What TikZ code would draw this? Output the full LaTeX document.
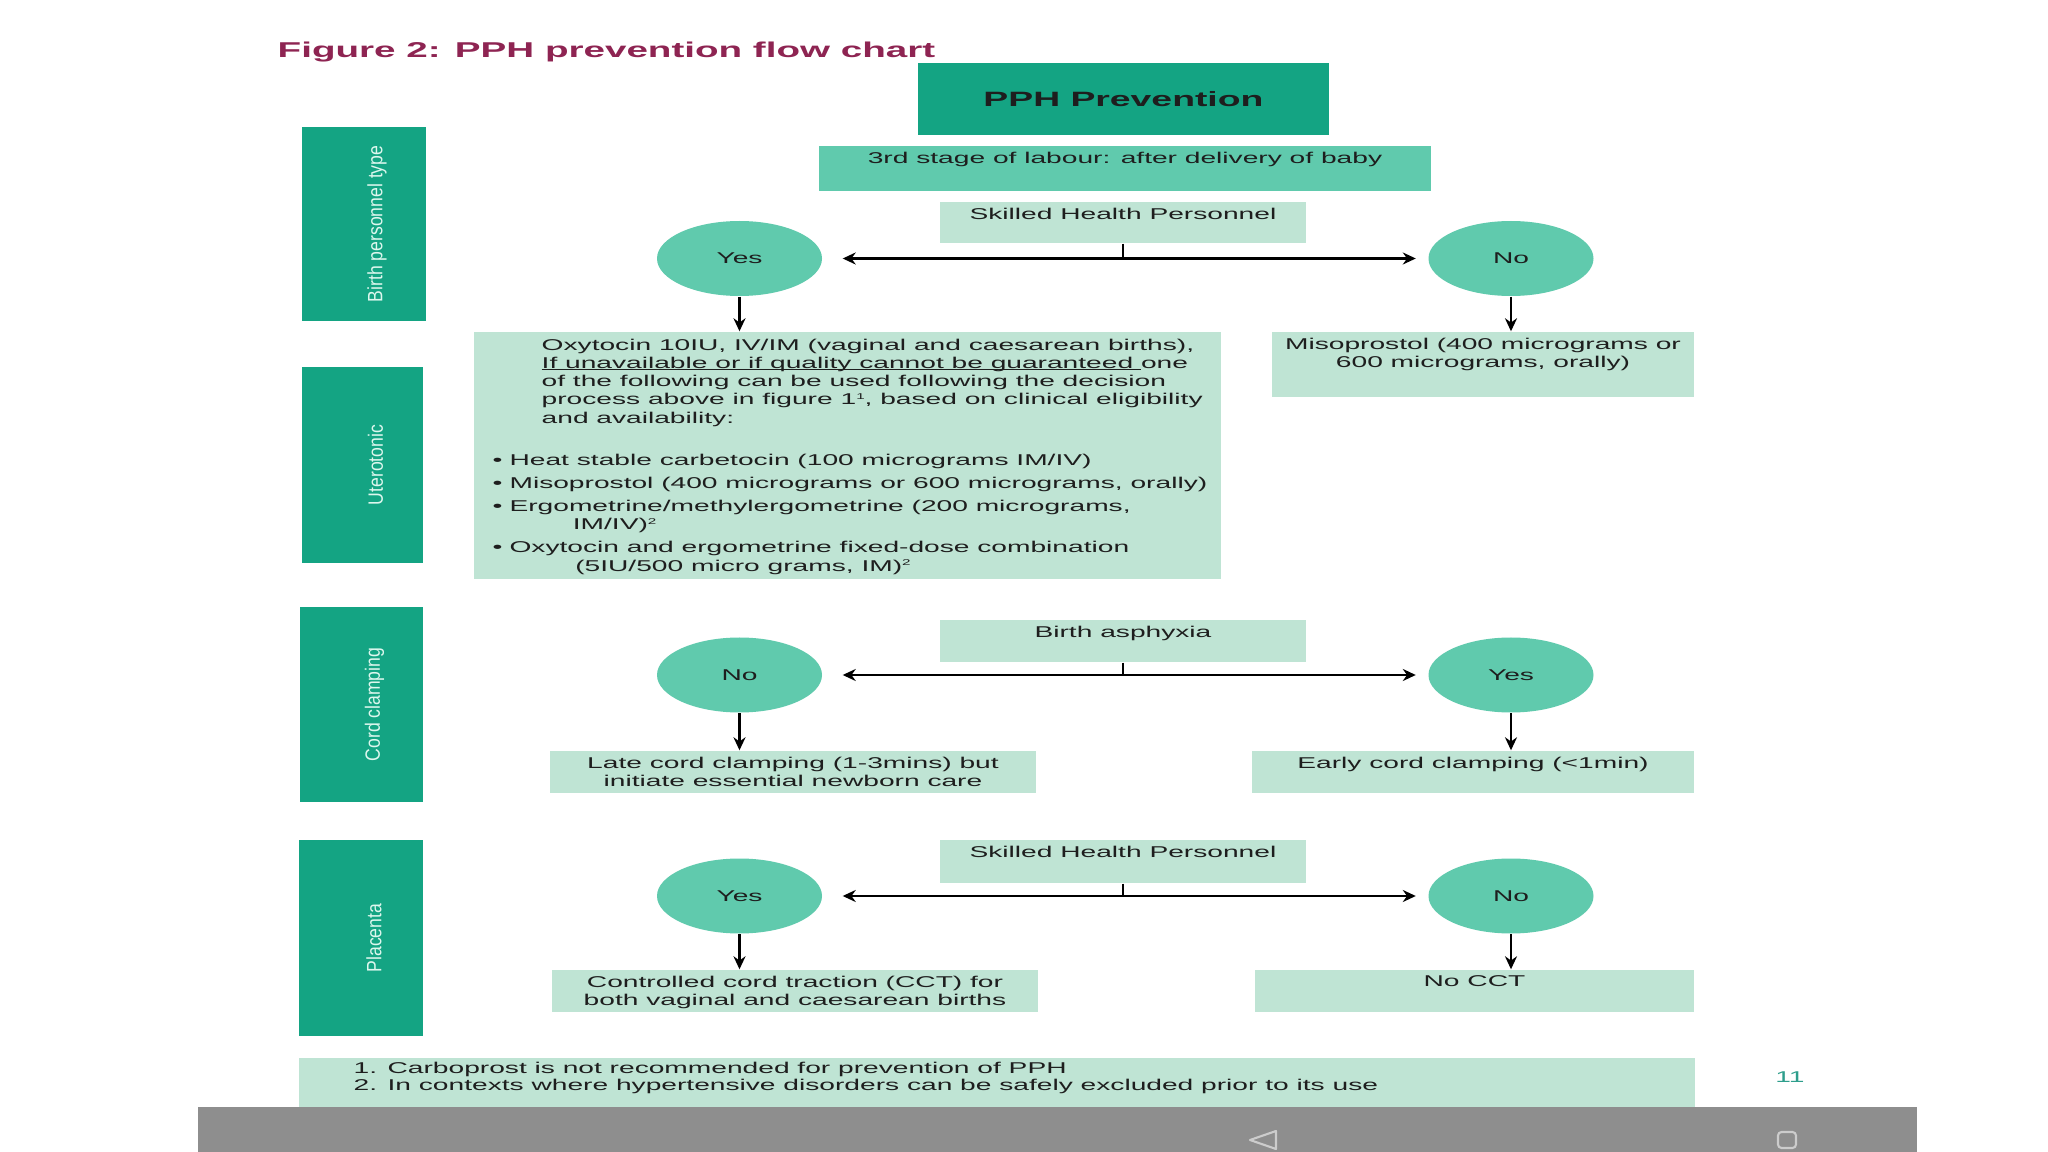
\documentclass[tikz,border=0pt]{standalone}
\usepackage{fontspec}
\setmainfont{Liberation Sans}[FakeStretch=1.8]
\newfontfamily\sidefont{Liberation Sans}[FakeStretch=0.85]
\usetikzlibrary{shapes.geometric, arrows.meta, positioning, calc}
\definecolor{whogreen}{HTML}{14A483}
\definecolor{midgreen}{HTML}{60CAAD}
\definecolor{palegreen}{HTML}{BFE4D4}
\definecolor{titlered}{HTML}{8E2452}
\definecolor{textgrey}{HTML}{1E1E1E}
\definecolor{mint}{HTML}{DDF7EE}
\definecolor{pagegreen}{HTML}{2E9E8C}
\definecolor{navgrey}{HTML}{8E8E8E}
\newcommand{\bodyfont}{\fontsize{4.45}{5.2}\selectfont}
\newcommand{\undl}[1]{\setbox0\hbox{#1}\rlap{\rule[-0.6pt]{\wd0}{0.3pt}}\box0}
\newcommand{\fnmark}[1]{\raisebox{1.6pt}{\fontsize{2.4}{3}\selectfont #1}}
\tikzstyle{header} = [rectangle, fill=whogreen, text=textgrey, minimum width=4.11cm,
                      minimum height=0.72cm, font=\bfseries\fontsize{5.9}{7}\selectfont]
\tikzstyle{sidebox} = [rectangle, fill=whogreen, minimum width=1.23cm, minimum height=1.95cm]
\tikzstyle{sidetext} = [rotate=90, text=mint, inner sep=0pt,
                        font=\sidefont\fontsize{5.9}{7}\selectfont]
\tikzstyle{stagebox} = [rectangle, fill=midgreen, minimum width=6.12cm, minimum height=0.45cm]
\tikzstyle{infobox} = [rectangle, fill=palegreen, minimum height=0.42cm]
\tikzstyle{choice} = [ellipse, fill=midgreen, minimum width=1.65cm, minimum height=0.75cm,
                      inner sep=0pt, text=textgrey, font=\bodyfont]
\tikzstyle{intext} = [anchor=north, inner sep=0pt, yshift=-0.06cm, align=center,
                      text=textgrey, font=\bodyfont]
\tikzstyle{plain} = [inner sep=0pt, align=left, text=textgrey, font=\bodyfont]
\tikzstyle{arrow} = [-{Stealth[length=1.3mm, width=1.2mm]}, line width=0.65pt]
\tikzstyle{twoway} = [{Stealth[length=1.3mm, width=1.2mm]}-{Stealth[length=1.3mm, width=1.2mm]},
                      line width=0.65pt, shorten <=0.2cm, shorten >=0.12cm]
\tikzstyle{navicon} = [draw=black!20, line width=0.6pt, line join=round]

\begin{document}
\begin{tikzpicture}
    \fill[white] (0,0) rectangle (20.48,-11.52);
    \useasboundingbox (0,0) rectangle (20.48,-11.52);

    \node[anchor=west, inner sep=0pt, text=titlered, font=\bfseries\fontsize{6.1}{7.5}\selectfont] (title)
        at (2.77,-0.52) {Figure 2: PPH prevention flow chart};

    \node[header] (pph) at (11.235,-0.99) {PPH Prevention};
    \node[stagebox, label={[intext]north:3rd stage of labour: after delivery of baby}] (stage)
        at (11.25,-1.685) {};

    % row labels
    \node[sidebox, minimum width=1.24cm, minimum height=1.94cm] (side1) at (3.64,-2.24) {};
    \node[sidetext] (side1t) at ([xshift=0.13cm]side1.center) {Birth personnel type};
    \node[sidebox, minimum width=1.21cm, minimum height=1.96cm] (side2) at (3.625,-4.65) {};
    \node[sidetext] (side2t) at ([xshift=0.13cm]side2.center) {Uterotonic};
    \node[sidebox] (side3) at (3.615,-7.045) {};
    \node[sidetext] (side3t) at ([xshift=0.13cm]side3.center) {Cord clamping};
    \node[sidebox, minimum width=1.24cm, minimum height=1.96cm] (side4) at (3.61,-9.38) {};
    \node[sidetext] (side4t) at ([xshift=0.13cm]side4.center) {Placenta};

    % birth personnel type
    \node[infobox, minimum width=3.66cm, minimum height=0.41cm,
          label={[intext]north:Skilled Health Personnel}] (shp1) at (11.23,-2.225) {};
    \node[choice] (yes1) at (7.395,-2.585) {Yes};
    \node[choice] (no1) at (15.11,-2.585) {No};

    % uterotonic
    \node[infobox, minimum width=7.47cm, minimum height=2.47cm] (oxy) at (8.475,-4.555) {};
    \node[plain, anchor=north west] (oxypara) at (5.41,-3.38) {%
        Oxytocin 10IU, IV/IM (vaginal and caesarean births),\\
        \undl{If unavailable or if quality cannot be guaranteed }one\\
        of the following can be used following the decision\\
        process above in figure 1\fnmark{1}, based on clinical eligibility\\
        and availability:};
    \node[plain, anchor=north west] (oxylist) at (4.92,-4.53) {%
        \textbullet\hspace{2pt}Heat stable carbetocin (100 micrograms IM/IV)\\[1.4pt]
        \textbullet\hspace{2pt}Misoprostol (400 micrograms or 600 micrograms, orally)\\[1.4pt]
        \textbullet\hspace{2pt}Ergometrine/methylergometrine (200 micrograms,\\
        \hspace*{22.8pt}IM/IV)\fnmark{2}\\[1.4pt]
        \textbullet\hspace{2pt}Oxytocin and ergometrine fixed-dose combination\\
        \hspace*{23.5pt}(5IU/500 micro grams, IM)\fnmark{2}};
    \node[infobox, minimum width=4.22cm, minimum height=0.65cm,
          label={[intext]north:{Misoprostol (400 micrograms or\\600 micrograms, orally)}}] (miso)
        at (14.83,-3.645) {};

    % cord clamping
    \node[infobox, minimum width=3.66cm, label={[intext]north:Birth asphyxia}] (asph) at (11.23,-6.41) {};
    \node[choice] (no2) at (7.395,-6.75) {No};
    \node[choice] (yes2) at (15.11,-6.75) {Yes};
    \node[infobox, minimum width=4.86cm,
          label={[intext]north:{Late cord clamping (1-3mins) but\\initiate essential newborn care}}] (late)
        at (7.93,-7.72) {};
    \node[infobox, minimum width=4.42cm, label={[intext]north:{Early cord clamping (<1min)}}] (early)
        at (14.73,-7.72) {};

    % placenta
    \node[infobox, minimum width=3.66cm, minimum height=0.43cm,
          label={[intext]north:Skilled Health Personnel}] (shp2) at (11.23,-8.615) {};
    \node[choice] (yes3) at (7.395,-8.96) {Yes};
    \node[choice] (no3) at (15.11,-8.96) {No};
    \node[infobox, minimum width=4.86cm,
          label={[intext]north:{Controlled cord traction (CCT) for\\both vaginal and caesarean births}}] (cct)
        at (7.95,-9.91) {};
    \node[infobox, minimum width=4.39cm, label={[intext]north:No CCT}] (nocct) at (14.745,-9.91) {};

    % footnotes
    \node[infobox, minimum width=13.96cm, minimum height=0.49cm] (notes) at (9.97,-10.825) {};
    \node[plain, anchor=north west, font=\fontsize{4.45}{4.85}\selectfont] (notest) at (3.53,-10.615)
        {1. Carboprost is not recommended for prevention of PPH\\
         2. In contexts where hypertensive disorders can be safely excluded prior to its use};
    \node[text=pagegreen, font=\bodyfont] (pageno) at (17.90,-10.77) {11};

    \draw[line width=0.65pt] (shp1.south) -- (shp1.south |- yes1.center);
    \draw[twoway] (yes1) -- (no1);
    \draw[arrow] (yes1) -- (yes1 |- oxy.north);
    \draw[arrow] (no1) -- (no1 |- miso.north);

    \draw[line width=0.65pt] (asph.south) -- (asph.south |- no2.center);
    \draw[twoway] (no2) -- (yes2);
    \draw[arrow] (no2) -- (no2 |- late.north);
    \draw[arrow] (yes2) -- (yes2 |- early.north);

    \draw[line width=0.65pt] (shp2.south) -- (shp2.south |- yes3.center);
    \draw[twoway] (yes3) -- (no3);
    \draw[arrow] (yes3) -- (yes3 |- cct.north);
    \draw[arrow] (no3) -- (no3 |- nocct.north);

    % phone navigation bar
    \fill[navgrey] (1.98,-11.07) rectangle (19.17,-11.52);
    \draw[navicon] (12.76,-11.31) -- (12.50,-11.40) -- (12.76,-11.49) -- cycle;
    \draw[navicon, rounded corners=1pt] (17.78,-11.32) rectangle (17.96,-11.48);
\end{tikzpicture}
\end{document}
